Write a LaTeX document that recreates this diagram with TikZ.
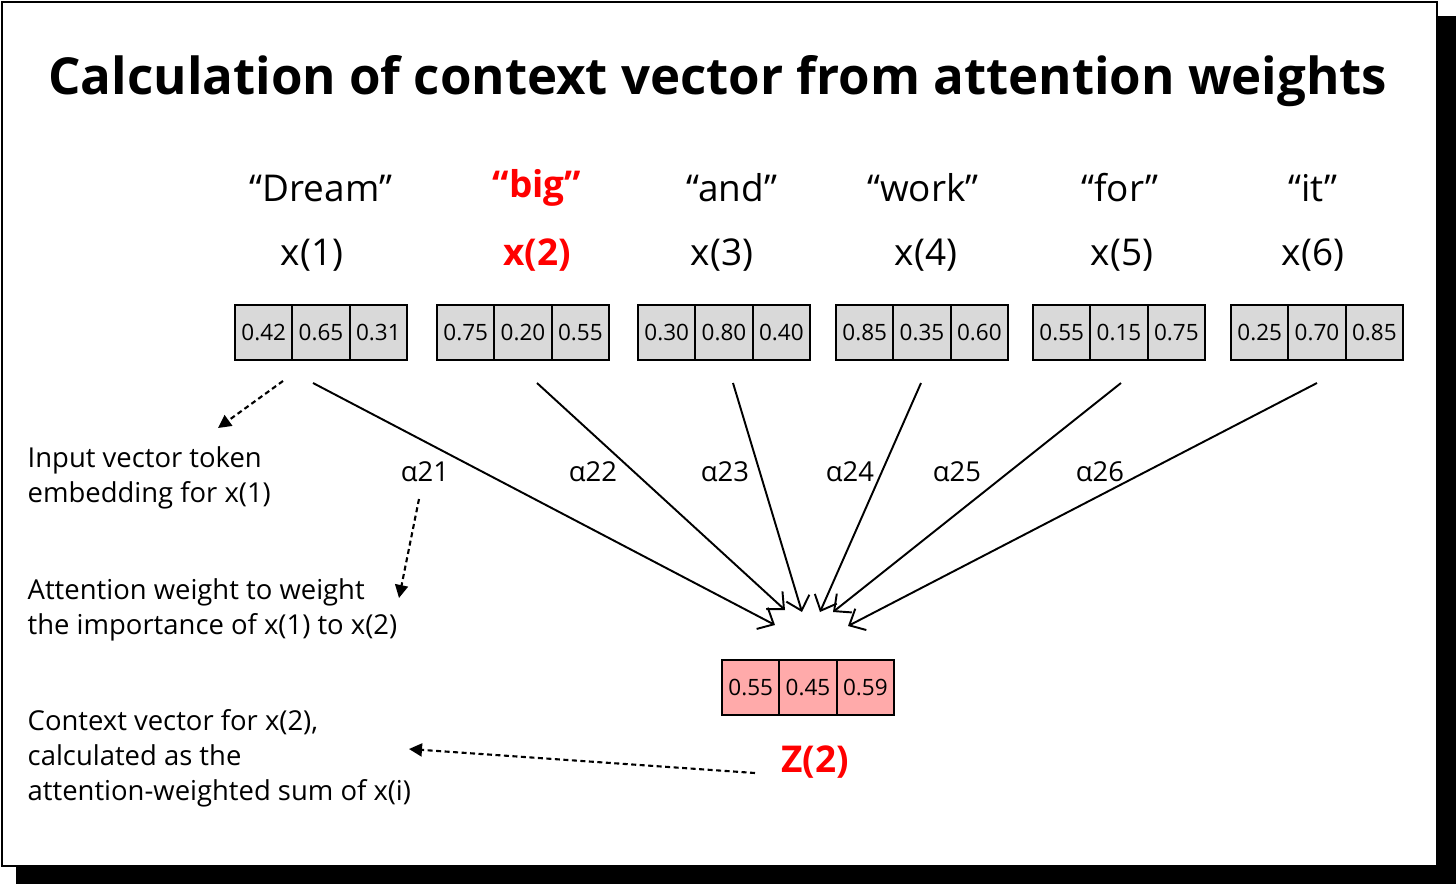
\documentclass[tikz,border=0pt]{standalone}
\usepackage{fontspec}
\setmainfont{Open Sans}
\usetikzlibrary{positioning,arrows.meta}

\definecolor{cellgray}{HTML}{D9D9D9}
\definecolor{cellpink}{HTML}{FFAAAA}
\definecolor{tokred}{HTML}{FF0000}

\tikzset{
  cell/.style={draw, line width=0.6pt, fill=cellgray, minimum width=0.573cm,
    minimum height=0.55cm, inner sep=0pt, outer sep=0pt,
    font=\fontsize{6.4}{7}\selectfont},
  zcell/.style={cell, fill=cellpink},
  word/.style={font=\fontsize{10.5}{12}\selectfont},
  redword/.style={text=tokred, font=\fontsize{10.5}{12}\selectfont\bfseries},
  weight/.style={line width=0.55pt, -{Straight Barb[length=1.3mm,width=2.4mm]}},
  hint/.style={line width=0.6pt, dash pattern=on 0.5mm off 0.35mm,
    -{Triangle[length=1.3mm,width=1.3mm]}},
  note/.style={font=\fontsize{7.8}{9.96}\selectfont, align=left,
    anchor=north west, inner sep=0pt},
  alab/.style={font=\fontsize{7.8}{9.96}\selectfont},
}

\begin{document}
\begin{tikzpicture}[x=0.01cm,y=-0.01cm]
\useasboundingbox (0,0) rectangle (1456,884);

% card with shadow
\fill[black] (16,16) rectangle (1456,884);
\draw[fill=white, line width=0.6pt] (2,2) rectangle (1437,866);

\node[font=\fontsize{14.5}{17}\selectfont\bfseries] (title) at (718,81)
  {Calculation of context vector from attention weights};

% input vectors
\foreach \i/\bx/\p/\q/\r/\wx/\word/\xx/\sty in {
  1/263.7/0.42/0.65/0.31/321/Dream/312/word,
  2/465.7/0.75/0.20/0.55/537/big/537/redword,
  3/666.7/0.30/0.80/0.40/732/and/722/word,
  4/864.7/0.85/0.35/0.60/923/work/926/word,
  5/1061.7/0.55/0.15/0.75/1120/for/1122/word,
  6/1259.7/0.25/0.70/0.85/1313/it/1313/word}{
  \node[cell] (v\i a) at (\bx,332.5) {\p};
  \node[cell, right=0pt of v\i a] (v\i b) {\q};
  \node[cell, right=0pt of v\i b] (v\i c) {\r};
  \node[\sty] (w\i) at (\wx,188) {“\word”};
  \node[\sty] (x\i) at (\xx,255) {x(\i)};
}

% context vector
\node[zcell] (za) at (750.7,687.5) {0.55};
\node[zcell, right=0pt of za] (zb) {0.45};
\node[zcell, right=0pt of zb] (zc) {0.59};
\node[redword] (zlab) at (815,762) {Z(2)};

% attention weights
\foreach \i/\sx/\tx/\ty/\ax in {
  1/313/775/625/425,
  2/537/785/610/593,
  3/733/802/612/725,
  4/921/820/612/850,
  5/1121/833/612/957,
  6/1317/848/626/1100}{
  \coordinate (s\i) at (\sx,383);
  \coordinate (t\i) at (\tx,\ty);
  \draw[weight] (s\i) -- (t\i);
  \node[alab] (a\i) at (\ax,472) {α2\i};
}

% notes
\node[note] (n1) at (27,446) {Input vector token\\embedding for x(1)};
\node[note] (n2) at (27,578) {Attention weight to weight\\the importance of x(1) to x(2)};
\node[note] (n3) at (27,709) {Context vector for x(2),\\calculated as the\\attention-weighted sum of x(i)};

\coordinate (h1s) at (283,381);
\coordinate (h1e) at (218,428);
\coordinate (h2s) at (419,499);
\coordinate (h2e) at (399,598);
\coordinate (h3s) at (755,773);
\coordinate (h3e) at (409,749);
\draw[hint] (h1s) -- (h1e);
\draw[hint] (h2s) -- (h2e);
\draw[hint] (h3s) -- (h3e);
\end{tikzpicture}
\end{document}
